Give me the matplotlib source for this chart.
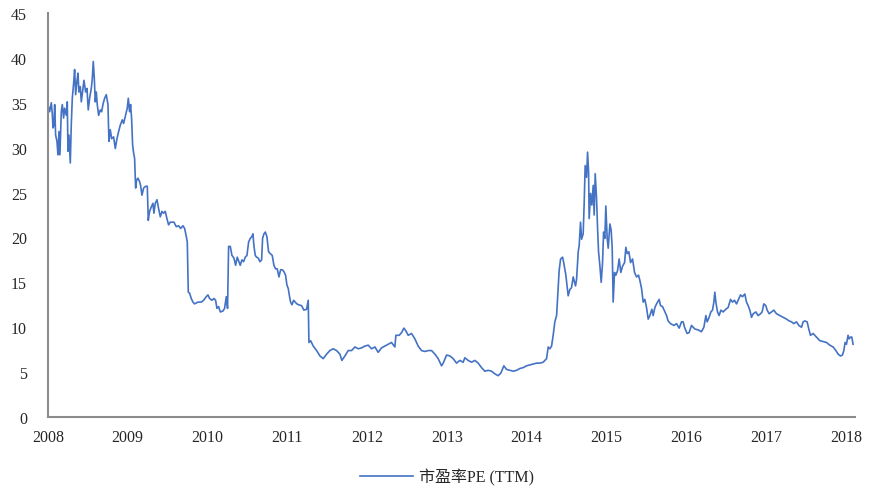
import matplotlib
matplotlib.use("Agg")
import matplotlib.pyplot as plt
from matplotlib.lines import Line2D

plt.rcParams['font.family'] = ['Liberation Serif', 'Noto Sans CJK SC', 'DejaVu Sans']

# Dates as decimal years, PE (TTM) readings
years = [
    2008.000, 2008.021, 2008.042, 2008.054, 2008.063, 2008.075, 2008.084, 2008.096, 2008.113, 2008.125,
    2008.138, 2008.150, 2008.167, 2008.180, 2008.196, 2008.209, 2008.230, 2008.242, 2008.251, 2008.263,
    2008.280, 2008.292, 2008.305, 2008.322, 2008.334, 2008.347, 2008.363, 2008.376, 2008.388, 2008.405,
    2008.418, 2008.439, 2008.451, 2008.472, 2008.489, 2008.505, 2008.522, 2008.543, 2008.556, 2008.568,
    2008.581, 2008.593, 2008.606, 2008.618, 2008.635, 2008.656, 2008.673, 2008.689, 2008.710, 2008.731,
    2008.752, 2008.764, 2008.781, 2008.798, 2008.823, 2008.844, 2008.865, 2008.886, 2008.906, 2008.932,
    2008.948, 2008.973, 2008.994, 2009.007, 2009.023, 2009.036, 2009.048, 2009.061, 2009.074, 2009.086,
    2009.099, 2009.111, 2009.128, 2009.149, 2009.161, 2009.178, 2009.199, 2009.224, 2009.245, 2009.257,
    2009.274, 2009.295, 2009.316, 2009.328, 2009.345, 2009.366, 2009.387, 2009.408, 2009.429, 2009.449,
    2009.470, 2009.491, 2009.512, 2009.533, 2009.558, 2009.579, 2009.608, 2009.637, 2009.663, 2009.692,
    2009.713, 2009.734, 2009.746, 2009.759, 2009.775, 2009.796, 2009.817, 2009.838, 2009.880, 2009.921,
    2009.951, 2009.984, 2010.005, 2010.026, 2010.055, 2010.080, 2010.101, 2010.118, 2010.139, 2010.160,
    2010.193, 2010.214, 2010.235, 2010.251, 2010.264, 2010.285, 2010.306, 2010.331, 2010.352, 2010.373,
    2010.394, 2010.410, 2010.431, 2010.452, 2010.473, 2010.494, 2010.515, 2010.536, 2010.556, 2010.569,
    2010.581, 2010.598, 2010.615, 2010.636, 2010.657, 2010.678, 2010.690, 2010.707, 2010.724, 2010.744,
    2010.765, 2010.786, 2010.811, 2010.832, 2010.853, 2010.874, 2010.895, 2010.916, 2010.937, 2010.957,
    2010.978, 2010.995, 2011.012, 2011.028, 2011.041, 2011.058, 2011.079, 2011.099, 2011.120, 2011.141,
    2011.179, 2011.208, 2011.242, 2011.262, 2011.271, 2011.292, 2011.325, 2011.367, 2011.409, 2011.450,
    2011.492, 2011.534, 2011.575, 2011.617, 2011.659, 2011.684, 2011.722, 2011.763, 2011.805, 2011.847,
    2011.889, 2011.931, 2011.972, 2012.014, 2012.056, 2012.098, 2012.139, 2012.181, 2012.223, 2012.264,
    2012.306, 2012.348, 2012.361, 2012.402, 2012.432, 2012.461, 2012.486, 2012.515, 2012.557, 2012.599,
    2012.640, 2012.682, 2012.724, 2012.766, 2012.808, 2012.850, 2012.891, 2012.933, 2012.954, 2012.996,
    2013.038, 2013.079, 2013.121, 2013.163, 2013.204, 2013.225, 2013.267, 2013.309, 2013.351, 2013.392,
    2013.434, 2013.476, 2013.518, 2013.560, 2013.602, 2013.643, 2013.677, 2013.714, 2013.748, 2013.789,
    2013.831, 2013.873, 2013.915, 2013.956, 2013.998, 2014.040, 2014.082, 2014.123, 2014.165, 2014.207,
    2014.249, 2014.270, 2014.291, 2014.312, 2014.332, 2014.353, 2014.375, 2014.395, 2014.407, 2014.425,
    2014.450, 2014.466, 2014.491, 2014.520, 2014.541, 2014.562, 2014.583, 2014.612, 2014.625, 2014.646,
    2014.658, 2014.675, 2014.688, 2014.708, 2014.721, 2014.733, 2014.751, 2014.763, 2014.776, 2014.783,
    2014.801, 2014.817, 2014.834, 2014.846, 2014.859, 2014.876, 2014.889, 2014.901, 2014.917, 2014.934,
    2014.951, 2014.964, 2014.980, 2014.992, 2015.009, 2015.022, 2015.043, 2015.059, 2015.072, 2015.084,
    2015.101, 2015.118, 2015.139, 2015.159, 2015.180, 2015.202, 2015.227, 2015.243, 2015.260, 2015.281,
    2015.302, 2015.327, 2015.352, 2015.377, 2015.402, 2015.419, 2015.440, 2015.460, 2015.481, 2015.502,
    2015.523, 2015.544, 2015.569, 2015.585, 2015.607, 2015.628, 2015.660, 2015.678, 2015.703, 2015.723,
    2015.753, 2015.773, 2015.803, 2015.845, 2015.878, 2015.911, 2015.941, 2015.961, 2015.982, 2016.011,
    2016.036, 2016.066, 2016.108, 2016.149, 2016.191, 2016.221, 2016.246, 2016.262, 2016.287, 2016.308,
    2016.329, 2016.346, 2016.358, 2016.371, 2016.392, 2016.412, 2016.434, 2016.462, 2016.496, 2016.525,
    2016.555, 2016.580, 2016.605, 2016.630, 2016.655, 2016.680, 2016.705, 2016.734, 2016.755, 2016.776,
    2016.797, 2016.818, 2016.839, 2016.872, 2016.901, 2016.931, 2016.951, 2016.972, 2016.997, 2017.014,
    2017.039, 2017.069, 2017.098, 2017.131, 2017.173, 2017.215, 2017.257, 2017.290, 2017.319, 2017.348,
    2017.382, 2017.411, 2017.445, 2017.465, 2017.486, 2017.515, 2017.536, 2017.557, 2017.590, 2017.632,
    2017.674, 2017.716, 2017.758, 2017.799, 2017.841, 2017.875, 2017.904, 2017.933, 2017.958, 2017.975,
    2017.991, 2018.008, 2018.028, 2018.041, 2018.058, 2018.075, 2018.091,
]

pe_ttm = [
    34.8, 34.0, 35.0, 33.8, 32.2, 32.5, 34.8, 31.4, 30.7, 29.2,
    31.8, 29.2, 34.0, 34.8, 33.3, 34.4, 33.6, 35.1, 29.6, 31.4,
    28.3, 32.5, 35.5, 37.2, 38.7, 35.9, 37.4, 38.3, 36.2, 36.8,
    35.1, 36.6, 37.5, 36.2, 36.6, 34.2, 35.5, 36.6, 37.7, 39.6,
    37.7, 35.1, 36.2, 34.8, 33.6, 34.2, 34.0, 34.8, 35.5, 35.9,
    34.8, 30.7, 32.0, 31.0, 31.2, 29.9, 31.0, 31.8, 32.5, 33.1,
    32.7, 33.6, 34.4, 35.5, 34.0, 34.8, 33.3, 30.3, 29.4, 28.8,
    25.5, 26.4, 26.6, 26.2, 25.8, 24.7, 25.5, 25.7, 25.7, 21.9,
    22.9, 23.4, 23.8, 22.7, 23.8, 24.2, 23.2, 22.3, 22.9, 22.7,
    22.9, 22.1, 21.4, 21.7, 21.7, 21.7, 21.2, 21.3, 21.0, 21.3,
    21.0, 20.1, 19.5, 13.9, 13.8, 13.2, 12.8, 12.6, 12.8, 12.8,
    13.0, 13.4, 13.6, 13.2, 13.0, 13.2, 13.0, 12.1, 12.3, 11.7,
    11.8, 12.1, 13.4, 12.1, 19.0, 19.0, 18.0, 17.7, 16.9, 17.8,
    17.3, 16.9, 17.5, 17.3, 17.8, 18.0, 19.5, 19.9, 20.1, 20.4,
    19.1, 18.0, 17.8, 17.7, 17.3, 17.5, 19.9, 20.4, 20.6, 20.1,
    18.4, 18.2, 18.0, 16.9, 16.5, 16.5, 15.6, 16.4, 16.4, 16.2,
    15.8, 14.7, 14.3, 13.4, 12.8, 12.5, 13.0, 12.8, 12.6, 12.5,
    12.4, 11.9, 12.0, 13.0, 8.3, 8.5, 7.9, 7.4, 6.8, 6.5,
    7.0, 7.4, 7.6, 7.4, 7.0, 6.3, 6.8, 7.4, 7.4, 7.8,
    7.6, 7.7, 7.9, 8.0, 7.6, 7.8, 7.2, 7.7, 7.9, 8.1,
    8.3, 7.8, 9.1, 9.1, 9.4, 9.9, 9.6, 9.1, 9.3, 8.7,
    7.9, 7.4, 7.3, 7.4, 7.4, 7.0, 6.5, 5.7, 6.0, 6.9,
    6.8, 6.5, 6.0, 6.3, 6.1, 6.6, 6.3, 6.1, 6.3, 6.0,
    5.5, 5.1, 5.2, 5.1, 4.8, 4.6, 4.9, 5.7, 5.3, 5.2,
    5.1, 5.2, 5.4, 5.5, 5.7, 5.8, 5.9, 6.0, 6.0, 6.1,
    6.5, 7.8, 7.6, 7.9, 9.1, 10.6, 11.3, 14.3, 16.3, 17.6,
    17.8, 17.1, 15.8, 13.5, 14.2, 14.4, 15.6, 14.6, 15.3, 18.4,
    19.1, 21.7, 19.8, 20.4, 23.9, 28.0, 26.7, 29.5, 27.3, 22.1,
    24.9, 23.6, 25.8, 22.5, 27.1, 24.3, 20.9, 18.4, 16.9, 15.0,
    17.2, 20.6, 19.9, 23.5, 19.9, 18.8, 21.5, 20.8, 18.8, 12.8,
    16.1, 15.8, 16.3, 17.6, 16.1, 16.8, 17.2, 18.9, 18.2, 18.4,
    17.2, 17.6, 16.1, 15.6, 15.8, 15.2, 14.3, 12.8, 13.1, 12.2,
    10.9, 11.3, 12.0, 11.3, 12.2, 12.6, 13.1, 12.4, 12.3, 11.9,
    11.3, 10.7, 10.4, 10.2, 10.4, 9.9, 10.6, 10.6, 9.9, 9.3,
    9.4, 10.2, 9.8, 9.7, 9.5, 10.0, 11.3, 10.6, 11.1, 11.7,
    11.9, 12.8, 13.9, 12.8, 11.7, 11.3, 11.9, 11.7, 12.0, 12.2,
    13.1, 12.8, 13.0, 12.6, 13.1, 13.6, 13.4, 13.7, 12.8, 12.4,
    11.9, 11.1, 11.5, 11.7, 11.3, 11.5, 11.7, 12.6, 12.4, 11.9,
    11.5, 11.7, 11.9, 11.5, 11.3, 11.1, 10.9, 10.7, 10.6, 10.4,
    10.6, 10.2, 10.0, 10.6, 10.7, 10.6, 9.8, 9.1, 9.3, 8.9,
    8.5, 8.4, 8.3, 8.0, 7.8, 7.4, 7.0, 6.8, 6.9, 7.4,
    8.3, 8.1, 9.1, 8.7, 8.9, 8.9, 8.1,
]

year_ticks = list(range(2008, 2019))
year_labels = [str(y) for y in year_ticks]
pe_ticks = list(range(0, 50, 5))
series_name = '市盈率PE (TTM)'

line_color = '#4472C4'
axis_color = '#8c8c8c'
text_color = '#262626'

fig = plt.figure(figsize=(8.72, 4.89), dpi=100)
ax = fig.add_axes([0.055, 0.1452, 0.9255, 0.8262])

ax.plot(years, pe_ttm, color=line_color, linewidth=1.2, label=series_name)

ax.set_xlim(2008, 2018.115)
ax.set_ylim(0, 45)
ax.set_xticks(year_ticks)
ax.set_xticklabels(year_labels)
ax.set_yticks(pe_ticks)

for side in ('top', 'right'):
    ax.spines[side].set_visible(False)
for side in ('left', 'bottom'):
    ax.spines[side].set_color(axis_color)
    ax.spines[side].set_linewidth(1.5)

ax.tick_params(axis='both', length=0, labelsize=11.5, colors=text_color)
ax.tick_params(axis='y', pad=15)
ax.tick_params(axis='x', pad=9)

handle = Line2D([], [], color=line_color, linewidth=1.2)
fig.legend([handle], [series_name], loc='lower center',
           bbox_to_anchor=(0.513, -0.025), frameon=False, fontsize=11.5,
           handlelength=3.3, handletextpad=0.4, labelcolor=text_color)

fig.savefig('out.png', dpi=100)
